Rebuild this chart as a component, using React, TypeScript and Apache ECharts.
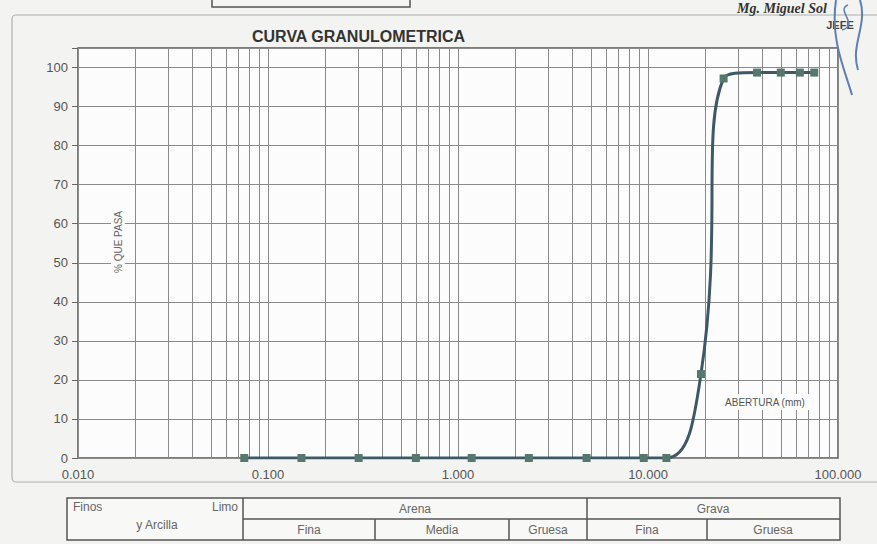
import React, { useEffect, useRef } from "react";
import * as echarts from "echarts";

// ---- data ----
const sieveSizesMm = [0.075, 0.15, 0.3, 0.6, 1.18, 2.36, 4.75, 9.5, 12.5, 19.0, 25.0, 37.5, 50.0, 63.0, 75.0];
const percentPassing = [0, 0, 0, 0, 0, 0, 0, 0, 0, 21.5, 97.2, 98.7, 98.7, 98.7, 98.7];
const decades = [0.01, 0.1, 1, 10];
const minorMultipliers = [2, 3, 4, 5, 6, 7, 8, 9];
const yTickLabels = [0, 10, 20, 30, 40, 50, 60, 70, 80, 90, 100];

const minorGridValues: number[] = [];
decades.forEach((d) => minorMultipliers.forEach((m) => minorGridValues.push(+(d * m).toPrecision(3))));

const FONT = "'Liberation Sans', Arial, sans-serif";

export default function App() {
  const ref = useRef<HTMLDivElement>(null);
  useEffect(() => {
    if (!ref.current) return;
    const chart = echarts.init(ref.current, undefined, { renderer: "svg" });
    const gridColor = "#8a8a8a";
    const tableStroke = { stroke: "#555", lineWidth: 1.5 };
    const tText = (text: string, x: number, y: number, align: string = "center") => ({
      type: "text",
      x,
      y,
      style: { text, fill: "#666", font: `12px ${FONT}`, align, verticalAlign: "middle" },
      z: 10,
    });
    const tLine = (x1: number, y1: number, x2: number, y2: number) => ({
      type: "line",
      shape: { x1, y1, x2, y2 },
      style: tableStroke,
      z: 10,
    });
    chart.setOption({
      animation: false,
      backgroundColor: "#f3f3f1",
      title: {
        text: "CURVA GRANULOMETRICA",
        left: 247,
        top: 23,
        textStyle: { fontFamily: FONT, fontWeight: "bold", fontSize: 16, color: "#333" },
      },
      grid: {
        left: 78,
        right: 39,
        top: 48,
        bottom: 86,
        show: true,
        borderColor: "#555",
        borderWidth: 1.5,
        backgroundColor: "#fcfcfc",
      },
      xAxis: {
        type: "log",
        logBase: 10,
        min: 0.01,
        max: 100,
        axisLine: { show: false },
        axisTick: { show: false },
        axisLabel: {
          margin: 10,
          color: "#555",
          fontFamily: FONT,
          fontSize: 13,
          formatter: (v: number) => v.toFixed(3),
        },
        splitLine: { show: true, lineStyle: { color: gridColor, width: 1 } },
      },
      yAxis: {
        type: "value",
        min: 0,
        max: 105,
        interval: 10,
        axisLine: { show: false },
        axisTick: { show: true, length: 6, lineStyle: { color: "#666" } },
        axisLabel: {
          margin: 10,
          color: "#555",
          fontFamily: FONT,
          fontSize: 13,
          formatter: (v: number) => (yTickLabels.indexOf(v) >= 0 ? String(v) : ""),
        },
        splitLine: { show: true, lineStyle: { color: gridColor, width: 1 } },
      },
      series: [
        {
          type: "line",
          data: [],
          silent: true,
          markLine: {
            silent: true,
            symbol: "none",
            label: { show: false },
            lineStyle: { color: gridColor, width: 1, type: "solid" },
            data: minorGridValues.map((v) => ({ xAxis: v })),
          },
          z: 1,
        },
        {
          type: "line",
          data: sieveSizesMm.map((s, i) => [s, percentPassing[i]]),
          smooth: 0.5,
          symbol: "rect",
          symbolSize: 8,
          itemStyle: { color: "#56786c" },
          lineStyle: { color: "#3d5866", width: 3 },
          z: 5,
        },
      ],
      graphic: [
        // outer frame
        {
          type: "rect",
          shape: { x: 12, y: 15, width: 870, height: 467, r: 4 },
          style: { fill: "none", stroke: "#b0b0b0", lineWidth: 1.2 },
          z: -1,
        },
        // top box fragment
        {
          type: "rect",
          shape: { x: 212, y: -4, width: 198, height: 11 },
          style: { fill: "#f5f5f3", stroke: "#555", lineWidth: 1.5 },
        },
        // signature
        {
          type: "text",
          x: 737,
          y: 8,
          style: { text: "Mg. Miguel Sol", fill: "#333", font: "italic bold 14px 'Liberation Serif', serif", verticalAlign: "middle" },
          z: 10,
        },
        {
          type: "text",
          x: 840,
          y: 25,
          style: { text: "JEFE", fill: "#444", font: `bold 11px ${FONT}`, align: "center", verticalAlign: "middle" },
          z: 10,
        },
        {
          type: "bezierCurve",
          shape: { x1: 836, y1: 0, x2: 852, y2: 95, cpx1: 830, cpy1: 40, cpx2: 845, cpy2: 70 },
          style: { stroke: "#5d7fb5", lineWidth: 2, fill: "none" },
          z: 11,
        },
        {
          type: "bezierCurve",
          shape: { x1: 860, y1: 0, x2: 858, y2: 70, cpx1: 868, cpy1: 25, cpx2: 850, cpy2: 45 },
          style: { stroke: "#5d7fb5", lineWidth: 2, fill: "none" },
          z: 11,
        },
        {
          type: "bezierCurve",
          shape: { x1: 848, y1: 5, x2: 842, y2: 30, cpx1: 835, cpy1: 10, cpx2: 860, cpy2: 25 },
          style: { stroke: "#5d7fb5", lineWidth: 1.5, fill: "none" },
          z: 11,
        },
        // axis names with white backgrounds
        {
          type: "text",
          x: 118,
          y: 242,
          rotation: Math.PI / 2,
          style: {
            text: "% QUE PASA",
            fill: "#666",
            font: `10px ${FONT}`,
            align: "center",
            verticalAlign: "middle",
            backgroundColor: "#fcfcfc",
            padding: [2, 4],
          },
          z: 10,
        },
        {
          type: "text",
          x: 765,
          y: 402,
          style: {
            text: "ABERTURA (mm)",
            fill: "#555",
            font: `10px ${FONT}`,
            align: "center",
            verticalAlign: "middle",
            backgroundColor: "#fcfcfc",
            padding: [3, 4],
          },
          z: 10,
        },
        // classification table
        {
          type: "rect",
          shape: { x: 67, y: 498, width: 773, height: 42 },
          style: { fill: "#f8f8f6", ...tableStroke },
          z: 9,
        },
        tLine(243, 498, 243, 540),
        tLine(587, 498, 587, 540),
        tLine(243, 519, 840, 519),
        tLine(375, 519, 375, 540),
        tLine(509, 519, 509, 540),
        tLine(707, 519, 707, 540),
        tText("Finos", 73, 507, "left"),
        tText("Limo", 238, 507, "right"),
        tText("y Arcilla", 157, 525),
        tText("Arena", 415, 509),
        tText("Grava", 713, 509),
        tText("Fina", 309, 530),
        tText("Media", 442, 530),
        tText("Gruesa", 548, 530),
        tText("Fina", 647, 530),
        tText("Gruesa", 773, 530),
      ],
    });
    return () => chart.dispose();
  }, []);
  return <div ref={ref} style={{ width: 877, height: 544, position: "fixed", left: 0, top: 0 }} />;
}
